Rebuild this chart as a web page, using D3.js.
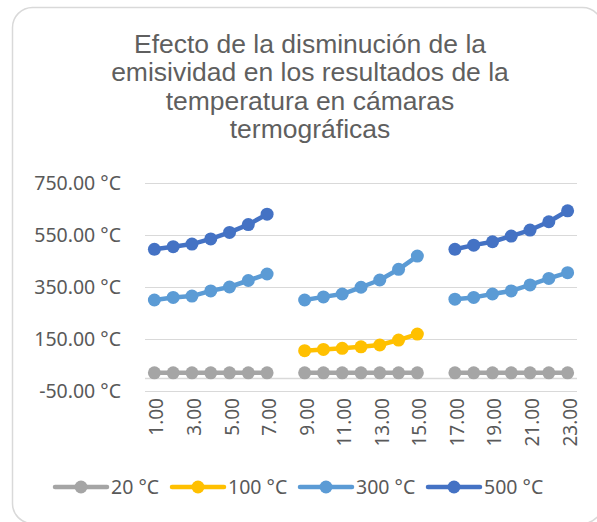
<!DOCTYPE html>
<html>
<head>
<meta charset="utf-8">
<script src="https://cdn.jsdelivr.net/npm/d3@7"></script>
<style>
  body { margin: 0; background: #fff; }
  text { fill: #595959; }
</style>
</head>
<body>
<div id="chart"></div>
<script>
var width = 597,
    height = 522;

// categories 1..23, 8 and 16 are empty
var categories = d3.range(1, 24);
var tickLabels = [1, 3, 5, 7, 9, 11, 13, 15, 17, 19, 21, 23];
var yTicks = [-50, 150, 350, 550, 750];

var seriesNames = ["20 °C", "100 °C", "300 °C", "500 °C"];
var seriesColors = ["#A5A5A5", "#FFC000", "#5B9BD5", "#4472C4"];

var s20 = [20, 20, 20, 20, 20, 20, 20, null, 20, 20, 20, 20, 20, 20, 20, null, 20, 20, 20, 20, 20, 20, 20];
var s100 = [null, null, null, null, null, null, null, null, 105, 110, 114, 120, 127, 146, 169, null, null, null, null, null, null, null, null];
var s300 = [300, 310, 315, 335, 350, 375, 400, null, 300, 312, 323, 349, 377, 418, 469, null, 303, 310, 323, 335, 358, 383, 405];
var s500 = [495, 505, 515, 535, 560, 590, 630, null, null, null, null, null, null, null, null, null, 495, 511, 524, 546, 569, 601, 643];
var seriesValues = [s20, s100, s300, s500];

// plain hyphen for negatives, like Excel
var fmt = d3.formatLocale({decimal: ".", thousands: ",", grouping: [3], currency: ["", ""], minus: "-"}).format(".2f");

var svg = d3.select("#chart").append("svg")
    .attr("width", width)
    .attr("height", height);

// chart border
svg.append("rect")
  .attr("x", 12.5).attr("y", 7.5)
  .attr("width", 590).attr("height", 516)
  .attr("rx", 20).attr("ry", 20)
  .attr("fill", "#fff")
  .attr("stroke", "#D9D9D9")
  .attr("stroke-width", 1.5);

// title
var titleLines = ["Efecto de la disminución de la", "emisividad en los resultados de la", "temperatura en cámaras", "termográficas"];
svg.append("text")
  .attr("x", 310)
  .attr("y", 53)
  .attr("text-anchor", "middle")
  .style("font-family", "'Liberation Sans', Arial, sans-serif")
  .style("font-size", "26.5px")
  .style("fill", "#5f5f5f")
  .selectAll("tspan")
  .data(titleLines)
  .enter()
  .append("tspan")
  .attr("x", 310)
  .attr("dy", function(d, i) { return i == 0 ? 0 : 28.4; })
  .text(function(d) { return d; });

var x = d3.scalePoint()
    .domain(categories)
    .range([145, 577])
    .padding(0.5);

var y = d3.scaleLinear()
    .domain([-50, 750])
    .range([391, 183]);

// gridlines
svg.selectAll(".grid")
  .data(yTicks)
  .enter()
  .append("line")
  .attr("class", "grid")
  .attr("x1", 145).attr("x2", 577)
  .attr("y1", function(d) { return Math.round(y(d)) + 0.5; })
  .attr("y2", function(d) { return Math.round(y(d)) + 0.5; })
  .attr("stroke", "#D9D9D9")
  .attr("stroke-width", 1);

// horizontal axis crosses at 0
svg.append("line")
  .attr("x1", 145).attr("x2", 577)
  .attr("y1", Math.round(y(0)) + 0.5)
  .attr("y2", Math.round(y(0)) + 0.5)
  .attr("stroke", "#D9D9D9")
  .attr("stroke-width", 1.5);

var labelFont = "'Noto Sans', sans-serif";

// y labels
svg.selectAll(".ylab")
  .data(yTicks)
  .enter()
  .append("text")
  .attr("class", "ylab")
  .attr("x", 121)
  .attr("y", function(d) { return y(d) + 7; })
  .attr("text-anchor", "end")
  .style("font-family", labelFont)
  .style("font-size", "19.5px")
  .text(function(d) { return fmt(d) + " °C"; });

// x labels (rotated)
svg.selectAll(".xlab")
  .data(tickLabels)
  .enter()
  .append("text")
  .attr("class", "xlab")
  .attr("transform", function(d) { return "translate(" + (x(d) + 9) + ",398) rotate(-90)"; })
  .attr("text-anchor", "end")
  .style("font-family", labelFont)
  .style("font-size", "19px")
  .text(function(d) { return fmt(d); });

// lines
var line = d3.line()
    .defined(function(d) { return d != null; })
    .x(function(d, i) { return x(categories[i]); })
    .y(function(d) { return y(d); });

seriesValues.forEach(function(vals, k) {
  var g = svg.append("g");
  g.append("path")
    .datum(vals)
    .attr("d", line)
    .attr("fill", "none")
    .attr("stroke", seriesColors[k])
    .attr("stroke-width", 4.5)
    .attr("stroke-linejoin", "round");
  g.selectAll("circle")
    .data(vals.map(function(v, i) { return {v: v, c: categories[i]}; }).filter(function(d) { return d.v != null; }))
    .enter()
    .append("circle")
    .attr("cx", function(d) { return x(d.c); })
    .attr("cy", function(d) { return y(d.v); })
    .attr("r", 6.5)
    .attr("fill", seriesColors[k]);
});

// legend
var legendX = [55, 172, 300, 428];
var legend = svg.selectAll(".legend")
  .data(seriesNames)
  .enter()
  .append("g")
  .attr("class", "legend")
  .attr("transform", function(d, i) { return "translate(" + legendX[i] + ",487)"; });

legend.append("line")
  .attr("x1", 0).attr("x2", 52)
  .attr("y1", 0).attr("y2", 0)
  .attr("stroke", function(d, i) { return seriesColors[i]; })
  .attr("stroke-width", 4.5)
  .attr("stroke-linecap", "round");

legend.append("circle")
  .attr("cx", 26).attr("cy", 0)
  .attr("r", 6.5)
  .attr("fill", function(d, i) { return seriesColors[i]; });

legend.append("text")
  .attr("x", 56)
  .attr("y", 7)
  .style("font-family", labelFont)
  .style("font-size", "19.5px")
  .text(function(d) { return d; });
</script>
</body>
</html>
